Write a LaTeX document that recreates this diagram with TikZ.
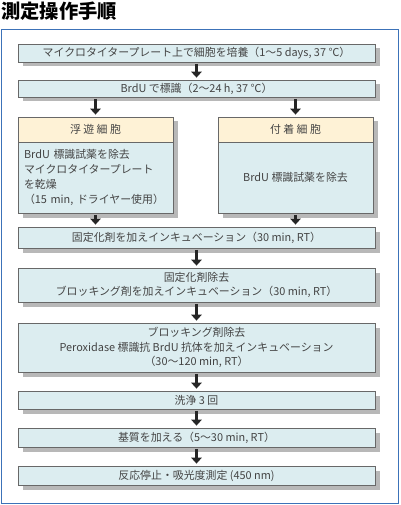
\documentclass[tikz,border=0pt]{standalone}
\usepackage{fontspec}
\setmainfont{Noto Sans CJK JP}
\usetikzlibrary{arrows.meta,shadows}

\definecolor{framecol}{HTML}{3C72B8}
\definecolor{stepfill}{HTML}{DCEDF0}
\definecolor{headfill}{HTML}{FEF2D6}
\definecolor{edgecol}{HTML}{686868}
\definecolor{textcol}{HTML}{444444}

\tikzset{
  stepbox/.style={draw=edgecol, line width=0.8pt, fill=stepfill, text=textcol,
    inner sep=0pt, minimum width=357pt, align=center,
    font=\fontsize{10.9}{14.8}\selectfont,
    drop shadow={shadow xshift=4.5pt, shadow yshift=-4.5pt, fill=black!28, opacity=1}},
  colbox/.style={stepbox, minimum width=155pt},
  headbox/.style={colbox, fill=headfill, minimum height=25pt},
  flowarrow/.style={draw=black!85, line width=3.6pt,
    -{Triangle[length=6pt,width=10.5pt]}, shorten <=1.5pt, shorten >=2pt}
}

\begin{document}
\begin{tikzpicture}[x=1pt,y=-1pt]
  \useasboundingbox (0,0) rectangle (400,505);
  \node[anchor=west, inner sep=0pt, font=\fontsize{19.3}{19.3}\selectfont\bfseries] (title) at (1,11) {測定操作手順};
  \draw[framecol, line width=1.6pt] (1.5,29.5) rectangle (398.5,503.5);

  % common steps
  \node[stepbox, minimum height=18pt] (culture) at (196.5,53) {マイクロタイタープレート上で細胞を培養（1～5 days, 37 ℃）};
  \node[stepbox, minimum height=17pt] (label) at (196.5,88.5) {BrdU で標識（2～24 h, 37 ℃）};

  % two branches
  \node[headbox] (floathead) at (95.5,129.5) {浮 遊 細 胞};
  \node[headbox] (adherehead) at (295.5,129.5) {付 着 細 胞};
  \node[colbox, minimum height=71pt, text width=143pt, align=left] (floatbody) at (95.5,177.5)
    {BrdU 標識試薬を除去\\マイクロタイタープレート\\を乾燥\\（15 min, ドライヤー使用）};
  \node[colbox, minimum height=71pt] (adherebody) at (295.5,177.5) {BrdU 標識試薬を除去};

  \node[stepbox, minimum height=21pt] (fix) at (196.5,237.5) {固定化剤を加えインキュベーション（30 min, RT）};
  \node[stepbox, minimum height=34pt] (block) at (196.5,285)
    {固定化剤除去\\ブロッキング剤を加えインキュベーション（30 min, RT）};
  \node[stepbox, minimum height=49pt] (antibody) at (196.5,347.5)
    {ブロッキング剤除去\\Peroxidase 標識抗 BrdU 抗体を加えインキュベーション\\（30～120 min, RT）};
  \node[stepbox, minimum height=18pt] (wash) at (196.5,400) {洗浄 3 回};
  \node[stepbox, minimum height=19pt] (substrate) at (196.5,437.5) {基質を加える（5～30 min, RT）};
  \node[stepbox, minimum height=19pt] (measure) at (196.5,475.5) {反応停止・吸光度測定 (450 nm)};

  % arrows
  \draw[flowarrow] (culture) -- (label);
  \draw[flowarrow] (floathead.north |- label.south) -- (floathead.north);
  \draw[flowarrow] (adherehead.north |- label.south) -- (adherehead.north);
  \draw[flowarrow] (floatbody.south) -- (floatbody.south |- fix.north);
  \draw[flowarrow] (adherebody.south) -- (adherebody.south |- fix.north);
  \draw[flowarrow] (fix) -- (block);
  \draw[flowarrow] (block) -- (antibody);
  \draw[flowarrow] (antibody) -- (wash);
  \draw[flowarrow] (wash) -- (substrate);
  \draw[flowarrow] (substrate) -- (measure);
\end{tikzpicture}
\end{document}
